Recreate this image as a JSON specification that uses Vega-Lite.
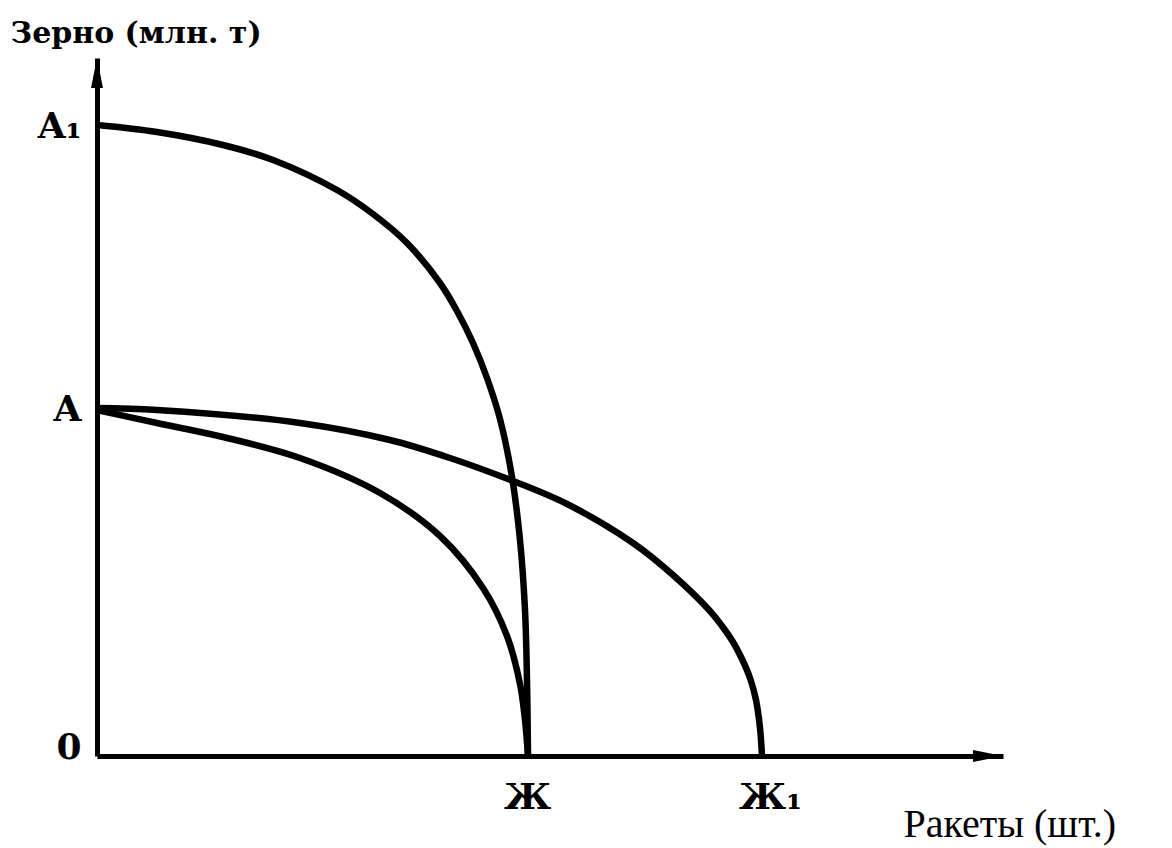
{
  "$schema": "https://vega.github.io/schema/vega-lite/v6.json",
  "autosize": "none",
  "width": 906,
  "height": 698,
  "padding": {"left": 97, "top": 58, "right": 169, "bottom": 92},
  "background": "white",
  "config": {"view": {"stroke": null}},
  "datasets": {
    "curves": [
      {"curve": "A1-Zh", "x": 0, "y": 631},
      {"curve": "A1-Zh", "x": 60, "y": 624},
      {"curve": "A1-Zh", "x": 126, "y": 611},
      {"curve": "A1-Zh", "x": 176, "y": 596},
      {"curve": "A1-Zh", "x": 240, "y": 566},
      {"curve": "A1-Zh", "x": 276, "y": 542},
      {"curve": "A1-Zh", "x": 310, "y": 513},
      {"curve": "A1-Zh", "x": 343, "y": 473},
      {"curve": "A1-Zh", "x": 360, "y": 445},
      {"curve": "A1-Zh", "x": 376, "y": 413},
      {"curve": "A1-Zh", "x": 390, "y": 378},
      {"curve": "A1-Zh", "x": 403, "y": 337},
      {"curve": "A1-Zh", "x": 415, "y": 279},
      {"curve": "A1-Zh", "x": 423, "y": 216},
      {"curve": "A1-Zh", "x": 428, "y": 146},
      {"curve": "A1-Zh", "x": 430, "y": 76},
      {"curve": "A1-Zh", "x": 431, "y": 0},
      {"curve": "A-Zh", "x": 0, "y": 346},
      {"curve": "A-Zh", "x": 60, "y": 333},
      {"curve": "A-Zh", "x": 126, "y": 319},
      {"curve": "A-Zh", "x": 203, "y": 298},
      {"curve": "A-Zh", "x": 283, "y": 263},
      {"curve": "A-Zh", "x": 343, "y": 220},
      {"curve": "A-Zh", "x": 386, "y": 168},
      {"curve": "A-Zh", "x": 410, "y": 120},
      {"curve": "A-Zh", "x": 423, "y": 72},
      {"curve": "A-Zh", "x": 428, "y": 36},
      {"curve": "A-Zh", "x": 431, "y": 0},
      {"curve": "A-Zh1", "x": 0, "y": 348},
      {"curve": "A-Zh1", "x": 60, "y": 346},
      {"curve": "A-Zh1", "x": 203, "y": 333},
      {"curve": "A-Zh1", "x": 293, "y": 316},
      {"curve": "A-Zh1", "x": 353, "y": 298},
      {"curve": "A-Zh1", "x": 416, "y": 275},
      {"curve": "A-Zh1", "x": 470, "y": 252},
      {"curve": "A-Zh1", "x": 536, "y": 213},
      {"curve": "A-Zh1", "x": 576, "y": 181},
      {"curve": "A-Zh1", "x": 613, "y": 145},
      {"curve": "A-Zh1", "x": 625, "y": 130},
      {"curve": "A-Zh1", "x": 636, "y": 114},
      {"curve": "A-Zh1", "x": 645, "y": 97},
      {"curve": "A-Zh1", "x": 653, "y": 78},
      {"curve": "A-Zh1", "x": 659, "y": 56},
      {"curve": "A-Zh1", "x": 663, "y": 28},
      {"curve": "A-Zh1", "x": 665, "y": 0}
    ],
    "arrowY": [{"x": 0, "y": 683}],
    "arrowX": [{"x": 891, "y": 0}]
  },
  "layer": [
    {
      "data": {"name": "curves"},
      "mark": {"type": "line", "interpolate": "catmull-rom", "color": "black", "strokeWidth": 6.5, "strokeCap": "butt", "strokeJoin": "round"},
      "encoding": {
        "x": {
          "field": "x", "type": "quantitative",
          "scale": {"domain": [0, 906], "nice": false, "zero": true},
          "axis": {
            "values": [430, 665],
            "labelExpr": "datum.value == 430 ? 'Ж' : 'Ж₁'",
            "grid": false, "ticks": false, "tickSize": 0,
            "domainColor": "black", "domainWidth": 5,
            "labelFont": "DejaVu Serif", "labelFontSize": 36, "labelFontWeight": "bold", "labelColor": "black",
            "labelPadding": 24, "labelOverlap": false, "labelFlush": false,
            "labelOffset": {"condition": {"test": "datum.value == 665", "value": 8}, "value": 0},
            "title": "Ракеты (шт.)",
            "titleFont": "Liberation Serif", "titleFontSize": 40, "titleFontWeight": "normal", "titleColor": "black",
            "titleAngle": 0, "titleAlign": "left", "titleBaseline": "alphabetic",
            "titleX": 806, "titleY": 80
          }
        },
        "y": {
          "field": "y", "type": "quantitative",
          "scale": {"domain": [0, 698], "nice": false, "zero": true},
          "axis": {
            "values": [0, 347, 630],
            "labelExpr": "datum.value == 630 ? 'A₁' : (datum.value == 347 ? 'A' : '0')",
            "grid": false, "ticks": false, "tickSize": 0,
            "domainColor": "black", "domainWidth": 5,
            "labelFont": "DejaVu Serif", "labelFontSize": 36, "labelFontWeight": "bold", "labelColor": "black",
            "labelPadding": 16, "labelOverlap": false, "labelFlush": false,
            "labelBaseline": {"condition": {"test": "datum.value == 0", "value": "alphabetic"}, "value": "middle"},
            "labelOffset": {"condition": {"test": "datum.value == 0", "value": 2}, "value": 0},
            "title": "Зерно (млн. т)",
            "titleFont": "DejaVu Serif", "titleFontSize": 30, "titleFontWeight": "bold", "titleColor": "black",
            "titleAngle": 0, "titleAlign": "left", "titleBaseline": "alphabetic",
            "titleX": -87, "titleY": -16
          }
        },
        "detail": {"field": "curve", "type": "nominal"}
      }
    },
    {
      "data": {"name": "arrowY"},
      "mark": {"type": "point", "shape": "M -0.4 1 L 0 -1 L 0.4 1 Z", "size": 900, "filled": true, "color": "black", "opacity": 1},
      "encoding": {
        "x": {"field": "x", "type": "quantitative"},
        "y": {"field": "y", "type": "quantitative"}
      }
    },
    {
      "data": {"name": "arrowX"},
      "mark": {"type": "point", "shape": "M -1 -0.4 L 1 0 L -1 0.4 Z", "size": 900, "filled": true, "color": "black", "opacity": 1},
      "encoding": {
        "x": {"field": "x", "type": "quantitative"},
        "y": {"field": "y", "type": "quantitative"}
      }
    }
  ]
}
